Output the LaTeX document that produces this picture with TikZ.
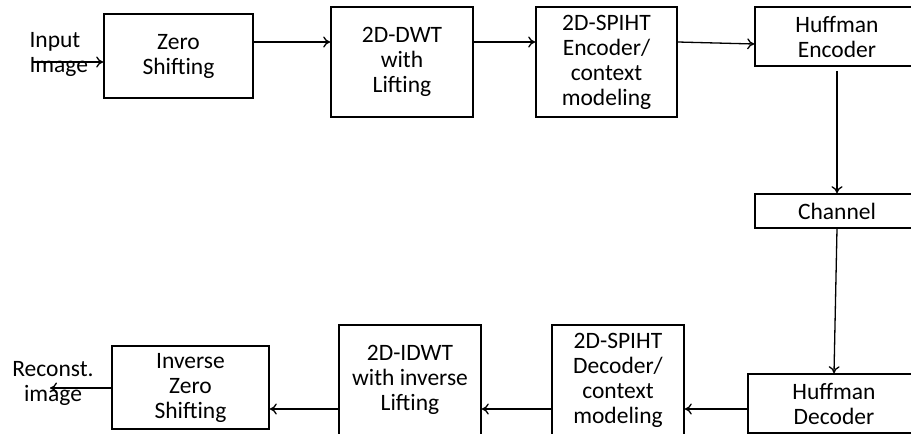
\documentclass[tikz,border=0pt]{standalone}
\usepackage{fontspec}
\setmainfont{Carlito}
\usetikzlibrary{arrows.meta}

\begin{document}
\begin{tikzpicture}[x=1pt,y=-1pt, every node/.style={font=\fontsize{23.5}{25}\selectfont},
  blk/.style={draw,line width=1.6pt,align=center,inner sep=0pt},
  flow/.style={-{To[length=7pt,width=11pt]},line width=1.3pt}]
\clip (0,0) rectangle (911,434);
% encoder row
\node[blk,minimum width=149pt,minimum height=84pt] (zs) at (178.5,56) {Zero\\Shifting};
\node[blk,minimum width=142pt,minimum height=110pt] (dwt) at (402,62) {2D-DWT\\with\\Lifting};
\node[blk,minimum width=141pt,minimum height=110pt] (spe) at (606.5,62) {2D-SPIHT\\Encoder/\\context\\modeling};
\node[blk,minimum width=164pt,minimum height=59pt] (hue) at (837,36.5) {Huffman\\Encoder};
\node[blk,minimum width=164pt,minimum height=34pt] (ch) at (837,211) {Channel};
% decoder row
\node[blk,minimum width=172pt,minimum height=59pt] (hud) at (834,403.5) {Huffman\\Decoder};
\node[blk,minimum width=132pt,minimum height=110pt] (spd) at (618,380) {2D-SPIHT\\Decoder/\\context\\modeling};
\node[blk,minimum width=142pt,minimum height=110pt] (idwt) at (410,380) {2D-IDWT\\with inverse\\Lifting};
\node[blk,minimum width=157pt,minimum height=83pt] (izs) at (190.5,387.5) {Inverse\\Zero\\Shifting};
\node[align=left,anchor=west] (in) at (26,54) {Input\\Image};
\node[align=center] (out) at (53,383) {Reconst.\\image};
\coordinate (src) at (33,62);
\coordinate (dst) at (50,388);
% connectors
\draw[flow] (src) -- (zs.west |- src);
\draw[flow] (zs.east |- 0,42) -- (dwt.west |- 0,42);
\draw[flow] (dwt.east |- 0,42) -- (spe.west |- 0,42);
\draw[flow] (spe.east |- 0,42) -- (hue.west |- 0,44);
\draw[flow,shorten <=4pt] (hue.south) -- (ch.north);
\draw[flow] (ch.south) -- (hud.north);
\draw[flow] (hud.west |- 0,409) -- (spd.east |- 0,409);
\draw[flow] (spd.west |- 0,409) -- (idwt.east |- 0,409);
\draw[flow] (idwt.west |- 0,409) -- (izs.east |- 0,409);
\draw[flow] (izs.west |- dst) -- (dst);
\end{tikzpicture}
\end{document}
